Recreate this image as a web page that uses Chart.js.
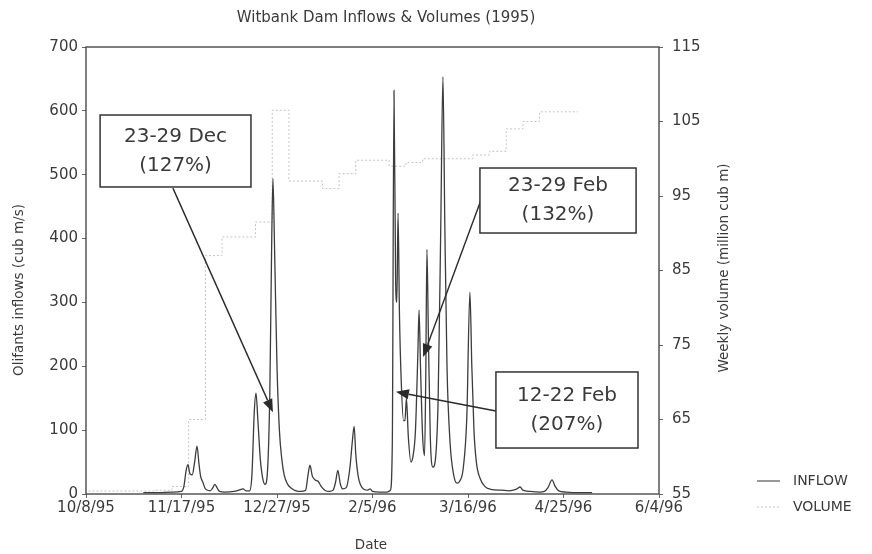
<!DOCTYPE html>
<html>
<head>
<meta charset="utf-8">
<script src="https://cdn.jsdelivr.net/npm/chart.js@4.4.0/dist/chart.umd.min.js"></script>
<style>
  html, body { margin: 0; padding: 0; background: #fff; }
  #wrap { width: 872px; height: 554px; }
</style>
</head>
<body>
<div id="wrap"><canvas id="c" width="872" height="554"></canvas></div>
<script>
// Days are counted from 8 Oct 1995.
const tickDays   = [0, 40, 80, 120, 160, 200, 240];
const tickLabels = ['10/8/95', '11/17/95', '12/27/95', '2/5/96', '3/16/96', '4/25/96', '6/4/96'];
const inflowTicks = [0, 100, 200, 300, 400, 500, 600, 700];
const volumeTicks = [55, 65, 75, 85, 95, 105, 115];

// Daily Olifants inflow (cub m/s)
const inflowDays = [
  24, 30, 36, 40, 41, 42, 42.7, 43.5, 44.5, 45.5, 46.5, 47.3, 48, 49, 50, 52, 53, 54, 55, 56, 58,
  62, 64, 65.8, 67, 68.5, 69.5, 70.5, 71.2, 72, 73, 74, 75, 76, 77, 77.8, 78.3, 79, 80, 81, 82, 83,
  84.5, 86, 88, 90, 92, 93, 93.8, 94.8, 96, 97.2, 98.5, 100, 102, 103.5, 104.5, 105.5, 106.5, 107.5,
  109, 110.5, 111.5, 112.3, 113, 114, 115, 116.5, 118, 119, 120, 123, 126, 127.5, 128.3, 129, 129.7,
  130.2, 130.7, 131.3, 132, 133, 133.6, 134.2, 135, 136.1, 137, 138, 139, 139.5, 140.1, 141, 141.8,
  142.3, 142.8, 143.4, 144.2, 145.3, 146.5, 147.5, 148.6, 149.5, 150.3, 151.2, 152.5, 154, 155.4,
  156.5, 158, 159.5, 160.8, 161.6, 162.5, 163.5, 165, 167, 170, 174, 177, 179, 180.5, 181.8, 183,
  186, 190, 192, 193.5, 195.2, 196.5, 198, 201, 206, 212
];
const inflowValues = [
  2, 2, 3, 4, 12, 38, 46, 32, 30, 50, 75, 48, 28, 18, 8, 5, 9, 15, 9, 4, 3,
  4, 6, 8, 5, 5, 30, 130, 158, 115, 55, 25, 15, 35, 160, 400, 494, 380, 200, 100, 55, 30,
  15, 9, 5, 4, 6, 30, 45, 28, 22, 20, 12, 6, 4, 6, 18, 37, 16, 8,
  10, 40, 80, 106, 62, 28, 14, 7, 6, 8, 4, 3, 3, 6, 80, 632, 330,
  300, 440, 280, 180, 115, 115, 150, 90, 50, 60, 100, 220, 288, 200, 90, 60,
  180, 383, 250, 90, 42, 60, 150, 420, 653, 420, 200, 80, 30, 17,
  20, 40, 120, 316, 200, 100, 50, 25, 12, 7, 6, 5, 6, 8, 11, 6,
  4, 3, 4, 10, 22, 12, 5, 3, 2, 2
];

// Weekly dam volume (million cub m), one value per week start
const volumeDays = [
  1, 8, 15, 22, 29, 36, 43, 50, 57, 64, 71, 78, 85, 92, 99, 106, 113, 120, 127, 134,
  141, 148, 155, 162, 169, 176, 183, 190, 197, 204, 206
];
const volumeValues = [
  55.4, 55.4, 55.4, 55.4, 55.5, 56, 65, 87, 89.5, 89.5, 91.5, 106.5, 97, 97, 96, 98, 99.8, 99.8, 99, 99.5,
  100, 100, 100, 100.5, 101, 104, 105, 106.3, 106.3, 106.3, 106.3
];

// Call-outs: box corners and arrow ends in (day, inflow) units
const callouts = [
  { lines: ['23-29 Dec', '(127%)'], box: [5.9, 593.5, 69.1, 480.8], from: [36.4, 479], tip: [78.3, 128] },
  { lines: ['23-29 Feb', '(132%)'], box: [165.0, 510.5, 230.4, 408.7], from: [165.4, 460], tip: [141.2, 214.5] },
  { lines: ['12-22 Feb', '(207%)'], box: [171.7, 191.1, 231.2, 72.0], from: [171.7, 130], tip: [129.8, 160] }
];

const FONT = "'DejaVu Sans', 'Liberation Sans', sans-serif";
const TEXT = '#3a3a3a';

function pairs(xs, ys) { return xs.map((x, i) => ({ x: x, y: ys[i] })); }

function arrow(ctx, x1, y1, x2, y2) {
  const a = Math.atan2(y2 - y1, x2 - x1);
  const len = 13, half = 5;
  const bx = x2 - len * Math.cos(a), by = y2 - len * Math.sin(a);
  ctx.beginPath();
  ctx.moveTo(x1, y1);
  ctx.lineTo(bx, by);
  ctx.stroke();
  ctx.beginPath();
  ctx.moveTo(x2, y2);
  ctx.lineTo(bx + half * Math.sin(a), by - half * Math.cos(a));
  ctx.lineTo(bx - half * Math.sin(a), by + half * Math.cos(a));
  ctx.closePath();
  ctx.fill();
}

const decorations = {
  id: 'decorations',
  afterDatasetsDraw(chart) {
    const ctx = chart.ctx;
    const a = chart.chartArea;
    const sx = chart.scales.x, sy = chart.scales.y;
    ctx.save();

    // plot frame
    ctx.strokeStyle = '#4a4a4a';
    ctx.lineWidth = 1.4;
    ctx.strokeRect(a.left, a.top, a.right - a.left, a.bottom - a.top);

    // call-out boxes and arrows
    ctx.lineWidth = 1.4;
    ctx.strokeStyle = '#2a2a2a';
    ctx.fillStyle = '#2a2a2a';
    callouts.forEach(c => {
      arrow(ctx, sx.getPixelForValue(c.from[0]), sy.getPixelForValue(c.from[1]),
                 sx.getPixelForValue(c.tip[0]), sy.getPixelForValue(c.tip[1]));
    });
    callouts.forEach(c => {
      const x1 = sx.getPixelForValue(c.box[0]), y1 = sy.getPixelForValue(c.box[1]);
      const x2 = sx.getPixelForValue(c.box[2]), y2 = sy.getPixelForValue(c.box[3]);
      ctx.fillStyle = '#fff';
      ctx.fillRect(x1, y1, x2 - x1, y2 - y1);
      ctx.strokeStyle = '#333';
      ctx.lineWidth = 1.5;
      ctx.strokeRect(x1, y1, x2 - x1, y2 - y1);
      ctx.fillStyle = TEXT;
      ctx.font = '20px ' + FONT;
      ctx.textAlign = 'center';
      ctx.textBaseline = 'middle';
      const cx = (x1 + x2) / 2, cy = (y1 + y2) / 2;
      ctx.fillText(c.lines[0], cx, cy - 14.5);
      ctx.fillText(c.lines[1], cx, cy + 14.5);
    });
    ctx.restore();
  },
  afterDraw(chart) {
    const ctx = chart.ctx;
    ctx.save();
    ctx.fillStyle = TEXT;
    ctx.textAlign = 'center';
    ctx.textBaseline = 'middle';

    ctx.font = '15px ' + FONT;
    ctx.fillText('Witbank Dam Inflows & Volumes (1995)', 386, 18);

    ctx.font = '13.5px ' + FONT;
    ctx.fillText('Date', 371, 545);

    ctx.save();
    ctx.translate(19, 290);
    ctx.rotate(-Math.PI / 2);
    ctx.fillText('Olifants inflows (cub m/s)', 0, 0);
    ctx.restore();

    ctx.save();
    ctx.translate(724, 268);
    ctx.rotate(-Math.PI / 2);
    ctx.fillText('Weekly volume (million cub m)', 0, 0);
    ctx.restore();

    // legend
    ctx.textAlign = 'left';
    ctx.font = '14px ' + FONT;
    ctx.strokeStyle = '#555';
    ctx.lineWidth = 1.2;
    ctx.beginPath(); ctx.moveTo(757, 481); ctx.lineTo(780, 481); ctx.stroke();
    ctx.fillText('INFLOW', 793, 481);
    ctx.strokeStyle = '#d0d0d0';
    ctx.setLineDash([2, 2]);
    ctx.beginPath(); ctx.moveTo(757, 507); ctx.lineTo(780, 507); ctx.stroke();
    ctx.setLineDash([]);
    ctx.fillText('VOLUME', 793, 507);
    ctx.restore();
  }
};

function fixedTicks(values) {
  return scale => { scale.ticks = values.map(v => ({ value: v })); };
}

new Chart(document.getElementById('c'), {
  type: 'line',
  data: {
    datasets: [
      {
        label: 'INFLOW',
        data: pairs(inflowDays, inflowValues),
        yAxisID: 'y',
        borderColor: '#3c3c3c',
        borderWidth: 1.3,
        pointRadius: 0,
        cubicInterpolationMode: 'monotone',
        fill: false
      },
      {
        label: 'VOLUME',
        data: pairs(volumeDays, volumeValues),
        yAxisID: 'y2',
        borderColor: '#c4c4c4',
        borderWidth: 1,
        borderDash: [2, 2],
        pointRadius: 0,
        stepped: true,
        fill: false
      }
    ]
  },
  options: {
    responsive: false,
    animation: false,
    events: [],
    layout: { padding: { top: 47, left: 0, right: 0, bottom: 0 } },
    plugins: { legend: { display: false }, title: { display: false }, tooltip: { enabled: false } },
    scales: {
      x: {
        type: 'linear',
        min: 0, max: 240,
        afterBuildTicks: fixedTicks(tickDays),
        afterFit: s => { s.height = 60; },
        grid: { drawOnChartArea: false, drawTicks: true, tickLength: 4, color: '#666' },
        border: { display: false },
        ticks: {
          font: { family: FONT, size: 15 },
          color: TEXT,
          padding: 1,
          maxRotation: 0,
          autoSkip: false,
          callback: v => tickLabels[tickDays.indexOf(v)]
        }
      },
      y: {
        position: 'left',
        min: 0, max: 700,
        afterBuildTicks: fixedTicks(inflowTicks),
        afterFit: s => { s.width = 86; },
        grid: { drawOnChartArea: false, drawTicks: true, tickLength: 4, color: '#666' },
        border: { display: false },
        ticks: { font: { family: FONT, size: 15 }, color: TEXT, padding: 4 }
      },
      y2: {
        position: 'right',
        min: 55, max: 115,
        afterBuildTicks: fixedTicks(volumeTicks),
        afterFit: s => { s.width = 213; },
        grid: { drawOnChartArea: false, drawTicks: true, tickLength: 4, color: '#666' },
        border: { display: false },
        ticks: { font: { family: FONT, size: 15 }, color: TEXT, padding: 9 }
      }
    }
  },
  plugins: [decorations]
});
</script>
</body>
</html>
